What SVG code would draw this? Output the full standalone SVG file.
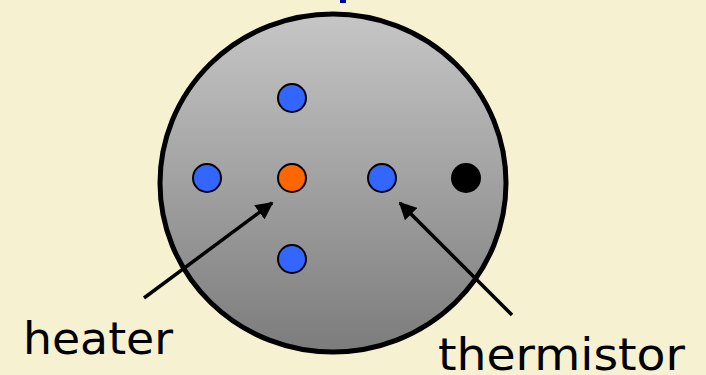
<svg xmlns="http://www.w3.org/2000/svg" width="706" height="375" viewBox="0 0 706 375">
<defs>
<linearGradient id="g" x1="0" y1="0" x2="0" y2="1">
<stop offset="0" stop-color="#c6c6c6"/>
<stop offset="1" stop-color="#7c7c7c"/>
</linearGradient>
<marker id="ah" viewBox="0 0 10 10" refX="9" refY="5" markerWidth="5" markerHeight="5" markerUnits="strokeWidth" orient="auto">
<path d="M0,0 L10,5 L0,10 z" fill="#000"/>
</marker>
<style>
.pin{stroke:#000;stroke-width:2}
.blue{fill:#3366ff}
.lbl{font-family:"DejaVu Sans",sans-serif;font-size:44px;fill:#000}
.arr{stroke:#000;stroke-width:3.5;fill:none;marker-end:url(#ah)}
</style>
</defs>
<rect width="706" height="375" fill="#f6f2d1"/>
<rect x="340" y="0" width="6" height="3" fill="#0000a0"/>
<g id="body">
<ellipse cx="333" cy="183" rx="173" ry="169" fill="url(#g)" stroke="#000" stroke-width="5"/>
</g>
<g id="pin-top"><circle class="pin blue" cx="292" cy="98" r="14"/></g>
<g id="pin-left"><circle class="pin blue" cx="207" cy="178" r="14"/></g>
<g id="heater-pin"><circle class="pin" fill="#ff6600" cx="292" cy="178" r="14"/></g>
<g id="thermistor-pin"><circle class="pin blue" cx="382" cy="178" r="14"/></g>
<g id="pin-black"><circle fill="#000" cx="466" cy="178" r="15"/></g>
<g id="pin-bottom"><circle class="pin blue" cx="292" cy="259" r="14"/></g>
<g id="connectors">
<line class="arr" x1="144" y1="298" x2="272" y2="203"/>
<line class="arr" x1="512" y1="315" x2="400" y2="203"/>
</g>
<g id="heater-label"><text class="lbl" x="23" y="354" textLength="150" lengthAdjust="spacingAndGlyphs">heater</text></g>
<g id="thermistor-label"><text class="lbl" x="438" y="370" textLength="247" lengthAdjust="spacingAndGlyphs">thermistor</text></g>
</svg>
